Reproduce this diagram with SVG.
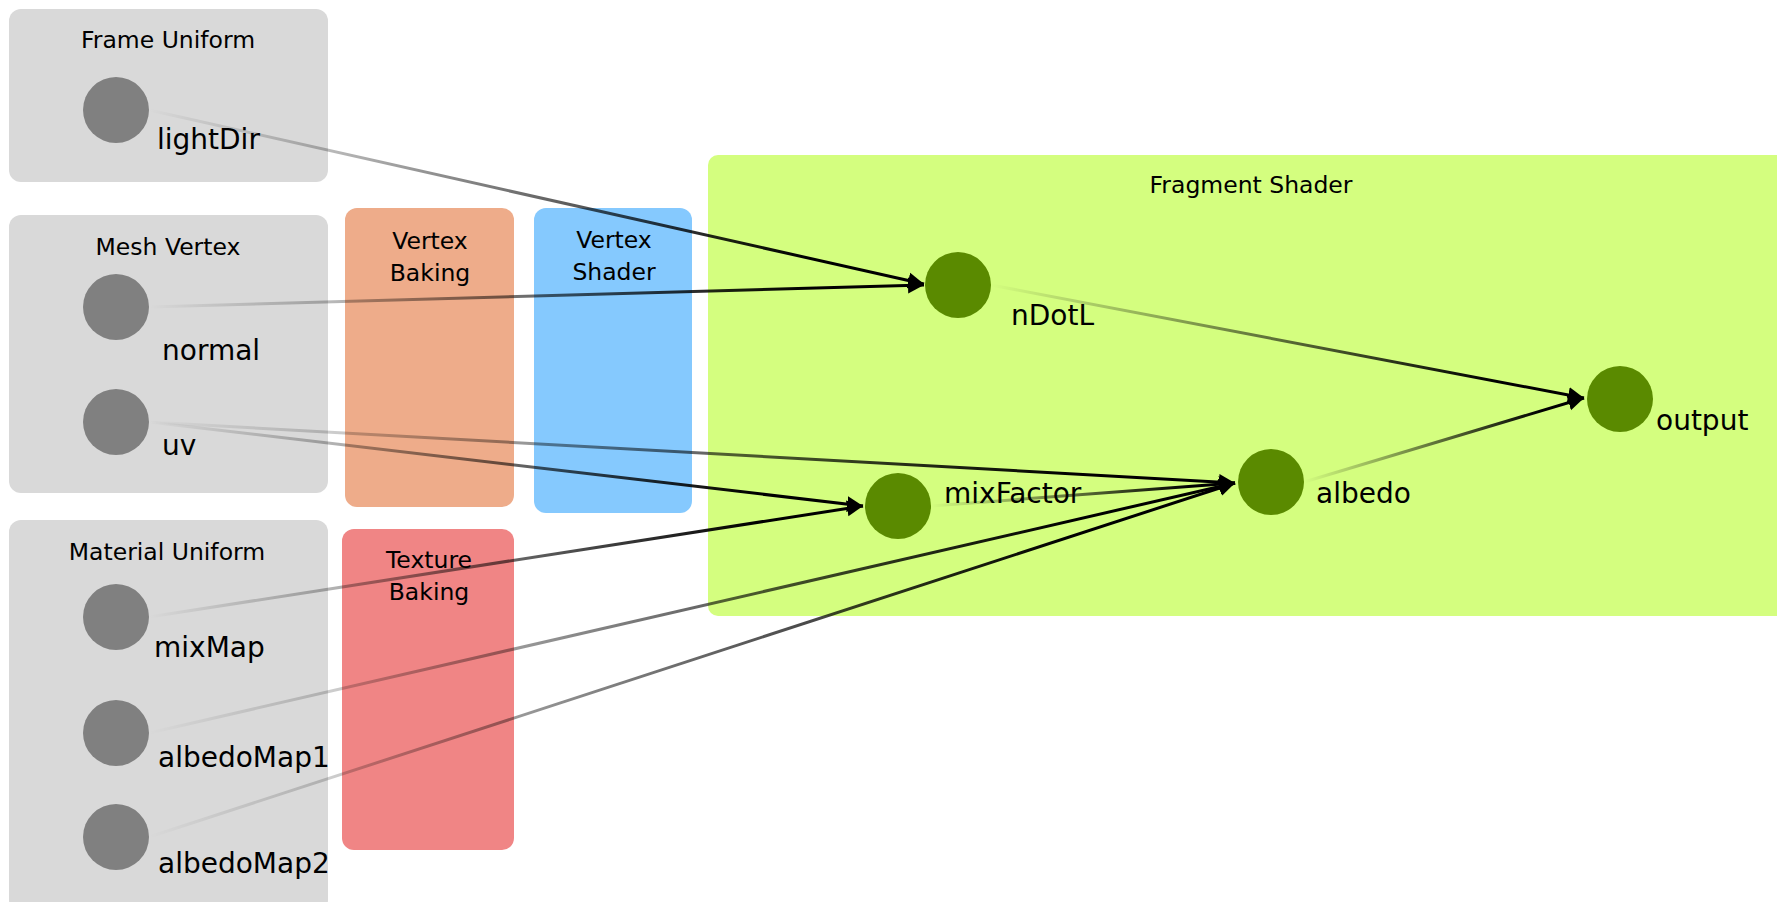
<svg xmlns="http://www.w3.org/2000/svg" width="1777" height="902" viewBox="0 0 1777 902">
<style>
.group{fill:#d9d9d9}
.in{fill:#808080}
.fn{fill:#5a8a00}
.title{font-family:"DejaVu Sans",sans-serif;font-size:23.5px;fill:#000;text-anchor:middle}
.lbl{font-family:"DejaVu Sans",sans-serif;font-size:28px;fill:#000}
.edge{fill:none;stroke-width:3;marker-end:url(#arrow)}
</style>
<defs>
<marker id="arrow" markerUnits="userSpaceOnUse" markerWidth="18" markerHeight="18" viewBox="0 0 18 18" refX="16" refY="9" orient="auto">
<path d="M0,1 L16,9 L0,17 z" fill="#000"/>
</marker>
<linearGradient id="g1" gradientUnits="userSpaceOnUse" x1="149" y1="110" x2="924" y2="284"><stop offset="0" stop-color="#000" stop-opacity="0"/><stop offset="0.85" stop-color="#000" stop-opacity="1"/></linearGradient>
<linearGradient id="g2" gradientUnits="userSpaceOnUse" x1="149" y1="307" x2="924" y2="285"><stop offset="0" stop-color="#000" stop-opacity="0"/><stop offset="0.85" stop-color="#000" stop-opacity="1"/></linearGradient>
<linearGradient id="g3" gradientUnits="userSpaceOnUse" x1="149" y1="422" x2="1235" y2="483"><stop offset="0" stop-color="#000" stop-opacity="0"/><stop offset="0.85" stop-color="#000" stop-opacity="1"/></linearGradient>
<linearGradient id="g4" gradientUnits="userSpaceOnUse" x1="149" y1="422" x2="863" y2="506"><stop offset="0" stop-color="#000" stop-opacity="0"/><stop offset="0.85" stop-color="#000" stop-opacity="1"/></linearGradient>
<linearGradient id="g5" gradientUnits="userSpaceOnUse" x1="149" y1="617" x2="863" y2="506"><stop offset="0" stop-color="#000" stop-opacity="0"/><stop offset="0.85" stop-color="#000" stop-opacity="1"/></linearGradient>
<linearGradient id="g6" gradientUnits="userSpaceOnUse" x1="931" y1="506" x2="1235" y2="483"><stop offset="0" stop-color="#000" stop-opacity="0"/><stop offset="0.85" stop-color="#000" stop-opacity="1"/></linearGradient>
<linearGradient id="g7" gradientUnits="userSpaceOnUse" x1="149" y1="733" x2="1235" y2="483"><stop offset="0" stop-color="#000" stop-opacity="0"/><stop offset="0.85" stop-color="#000" stop-opacity="1"/></linearGradient>
<linearGradient id="g8" gradientUnits="userSpaceOnUse" x1="149" y1="837" x2="1235" y2="483"><stop offset="0" stop-color="#000" stop-opacity="0"/><stop offset="0.85" stop-color="#000" stop-opacity="1"/></linearGradient>
<linearGradient id="g9" gradientUnits="userSpaceOnUse" x1="991" y1="285" x2="1584" y2="398"><stop offset="0" stop-color="#000" stop-opacity="0"/><stop offset="0.85" stop-color="#000" stop-opacity="1"/></linearGradient>
<linearGradient id="g10" gradientUnits="userSpaceOnUse" x1="1304" y1="482" x2="1584" y2="398"><stop offset="0" stop-color="#000" stop-opacity="0"/><stop offset="0.85" stop-color="#000" stop-opacity="1"/></linearGradient>
</defs>
<rect width="1777" height="902" fill="#fff"/>

<g id="frame-uniform">
<rect class="group" x="9" y="9" width="319" height="173" rx="12"/>
<text class="title" x="168" y="48">Frame Uniform</text>
</g>
<g id="mesh-vertex">
<rect class="group" x="9" y="215" width="319" height="278" rx="12"/>
<text class="title" x="168" y="255">Mesh Vertex</text>
</g>
<g id="material-uniform">
<rect class="group" x="9" y="520" width="319" height="392" rx="12"/>
<text class="title" x="167" y="560">Material Uniform</text>
</g>
<g id="vertex-baking">
<rect x="345" y="208" width="169" height="299" rx="12" fill="#eeac8a"/>
<text class="title" x="430" y="249">Vertex</text>
<text class="title" x="430" y="281">Baking</text>
</g>
<g id="vertex-shader">
<rect x="534" y="208" width="158" height="305" rx="12" fill="#85c9fe"/>
<text class="title" x="614" y="248">Vertex</text>
<text class="title" x="614" y="280">Shader</text>
</g>
<g id="texture-baking">
<rect x="342" y="529" width="172" height="321" rx="12" fill="#f08585"/>
<text class="title" x="429" y="568">Texture</text>
<text class="title" x="429" y="600">Baking</text>
</g>
<g id="fragment-shader">
<rect x="708" y="155" width="1090" height="461" rx="10" fill="#d4fe7f"/>
<text class="title" x="1251" y="193">Fragment Shader</text>
</g>

<g id="lightDir"><circle class="in" cx="116" cy="110" r="33"/><text class="lbl" x="157" y="149">lightDir</text></g>
<g id="normal"><circle class="in" cx="116" cy="307" r="33"/><text class="lbl" x="162" y="360">normal</text></g>
<g id="uv"><circle class="in" cx="116" cy="422" r="33"/><text class="lbl" x="162" y="455">uv</text></g>
<g id="mixMap"><circle class="in" cx="116" cy="617" r="33"/><text class="lbl" x="154" y="657">mixMap</text></g>
<g id="albedoMap1"><circle class="in" cx="116" cy="733" r="33"/><text class="lbl" x="158" y="767">albedoMap1</text></g>
<g id="albedoMap2"><circle class="in" cx="116" cy="837" r="33"/><text class="lbl" x="158" y="873">albedoMap2</text></g>
<g id="nDotL"><circle class="fn" cx="958" cy="285" r="33"/><text class="lbl" x="1011" y="325">nDotL</text></g>
<g id="mixFactor"><circle class="fn" cx="898" cy="506" r="33"/><text class="lbl" x="944" y="503">mixFactor</text></g>
<g id="albedo"><circle class="fn" cx="1271" cy="482" r="33"/><text class="lbl" x="1316" y="503">albedo</text></g>
<g id="output"><circle class="fn" cx="1620" cy="399" r="33"/><text class="lbl" x="1656" y="430">output</text></g>

<g id="connectors">
<path class="edge" stroke="url(#g1)" d="M149,110 L924,284"/>
<path class="edge" stroke="url(#g2)" d="M149,307 L924,285"/>
<path class="edge" stroke="url(#g3)" d="M149,422 L1235,483"/>
<path class="edge" stroke="url(#g4)" d="M149,422 L863,506"/>
<path class="edge" stroke="url(#g5)" d="M149,617 L863,506"/>
<path class="edge" stroke="url(#g6)" d="M931,506 L1235,483"/>
<path class="edge" stroke="url(#g7)" d="M149,733 L1235,483"/>
<path class="edge" stroke="url(#g8)" d="M149,837 L1235,483"/>
<path class="edge" stroke="url(#g9)" d="M991,285 L1584,398"/>
<path class="edge" stroke="url(#g10)" d="M1304,482 L1584,398"/>
</g>
</svg>
